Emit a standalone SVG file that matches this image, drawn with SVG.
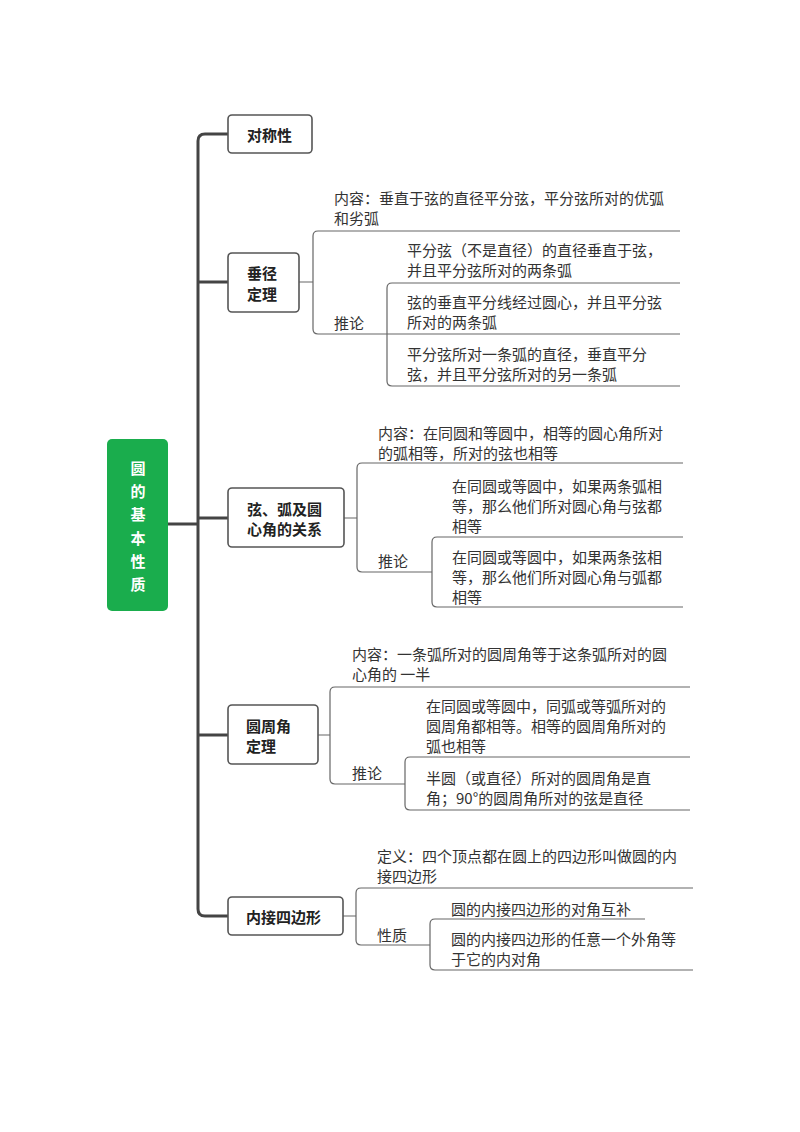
<svg xmlns="http://www.w3.org/2000/svg" width="800" height="1132" viewBox="0 0 800 1132">
<style>
.t{font-family:"Noto Sans CJK SC","Liberation Sans",sans-serif;font-size:15px;fill:#333;dominant-baseline:central}
.b{font-family:"Noto Sans CJK SC","Liberation Sans",sans-serif;font-size:15px;font-weight:bold;fill:#222;dominant-baseline:central}
.r{font-family:"Noto Sans CJK SC","Liberation Sans",sans-serif;font-size:15px;font-weight:bold;fill:#fff;dominant-baseline:central;text-anchor:middle}
.box{fill:#fff;stroke:#555;stroke-width:1.6}
.main{fill:none;stroke:#444;stroke-width:3}
.sub{fill:none;stroke:#666;stroke-width:1.2}
</style>
<rect width="800" height="1132" fill="#fff"/>
<g id="connectors">
<path class="main" d="M228,134 H205 Q198,134 198,141 V909 Q198,916 205,916 H228"/>
<path class="main" d="M168,524 H198 M198,282 H228 M198,518 H228 M198,735 H228"/>
<path class="sub" d="M299,282 H313 M680,231 H318 Q313,231 313,236 V329 Q313,334 318,334 H680 M680,283 H392 Q387,283 387,288 V381 Q387,386 392,386 H680"/>
<path class="sub" d="M344,518 H357 M683,463 H362 Q357,463 357,468 V567 Q357,572 362,572 H432 M683,537 H437 Q432,537 432,542 V602 Q432,607 437,607 H683"/>
<path class="sub" d="M318,735 H330 M690,687 H335 Q330,687 330,692 V779 Q330,784 335,784 H405 M690,757 H410 Q405,757 405,762 V805 Q405,810 410,810 H690"/>
<path class="sub" d="M343,916 H356 M693,888 H361 Q356,888 356,893 V940 Q356,945 361,945 H430 M645,919 H435 Q430,919 430,924 V965 Q430,970 435,970 H693"/>
</g>
<g id="root">
<rect x="107" y="439" width="61" height="172" rx="5" fill="#1aad4d"/>
<text class="r" x="138" y="467">圆</text>
<text class="r" x="138" y="490">的</text>
<text class="r" x="138" y="513">基</text>
<text class="r" x="138" y="537">本</text>
<text class="r" x="138" y="560">性</text>
<text class="r" x="138" y="583">质</text>
</g>
<g id="n-duichen">
<rect class="box" x="228" y="115" width="84" height="38" rx="4"/>
<text class="b" x="247" y="134">对称性</text>
</g>
<g id="n-chuijing">
<rect class="box" x="228" y="253" width="71" height="59" rx="4"/>
<text class="b" x="247" y="272">垂径</text>
<text class="b" x="247" y="293">定理</text>
<text class="t" x="334" y="197">内容：垂直于弦的直径平分弦，平分弦所对的优弧</text>
<text class="t" x="334" y="217">和劣弧</text>
<text class="t" x="334" y="322">推论</text>
<text class="t" x="407" y="249">平分弦（不是直径）的直径垂直于弦，</text>
<text class="t" x="407" y="269">并且平分弦所对的两条弧</text>
<text class="t" x="407" y="301">弦的垂直平分线经过圆心，并且平分弦</text>
<text class="t" x="407" y="321">所对的两条弧</text>
<text class="t" x="407" y="353">平分弦所对一条弧的直径，垂直平分</text>
<text class="t" x="407" y="373">弦，并且平分弦所对的另一条弧</text>
</g>
<g id="n-xianhu">
<rect class="box" x="228" y="488" width="116" height="59" rx="4"/>
<text class="b" x="247" y="508">弦、弧及圆</text>
<text class="b" x="247" y="528">心角的关系</text>
<text class="t" x="378" y="432">内容：在同圆和等圆中，相等的圆心角所对</text>
<text class="t" x="378" y="452">的弧相等，所对的弦也相等</text>
<text class="t" x="378" y="560">推论</text>
<text class="t" x="452" y="485">在同圆或等圆中，如果两条弧相</text>
<text class="t" x="452" y="505">等，那么他们所对圆心角与弦都</text>
<text class="t" x="452" y="525">相等</text>
<text class="t" x="452" y="556">在同圆或等圆中，如果两条弦相</text>
<text class="t" x="452" y="576">等，那么他们所对圆心角与弧都</text>
<text class="t" x="452" y="596">相等</text>
</g>
<g id="n-yuanzhou">
<rect class="box" x="228" y="705" width="90" height="59" rx="4"/>
<text class="b" x="246" y="725">圆周角</text>
<text class="b" x="246" y="745">定理</text>
<text class="t" x="352" y="653">内容：一条弧所对的圆周角等于这条弧所对的圆</text>
<text class="t" x="352" y="673">心角的 一半</text>
<text class="t" x="352" y="772">推论</text>
<text class="t" x="426" y="705">在同圆或等圆中，同弧或等弧所对的</text>
<text class="t" x="426" y="725">圆周角都相等。相等的圆周角所对的</text>
<text class="t" x="426" y="745">弧也相等</text>
<text class="t" x="426" y="777">半圆（或直径）所对的圆周角是直</text>
<text class="t" x="426" y="797">角；90°的圆周角所对的弦是直径</text>
</g>
<g id="n-neijie">
<rect class="box" x="228" y="897" width="115" height="38" rx="4"/>
<text class="b" x="246" y="916">内接四边形</text>
<text class="t" x="377" y="855">定义：四个顶点都在圆上的四边形叫做圆的内</text>
<text class="t" x="377" y="875">接四边形</text>
<text class="t" x="377" y="934">性质</text>
<text class="t" x="451" y="908">圆的内接四边形的对角互补</text>
<text class="t" x="451" y="938">圆的内接四边形的任意一个外角等</text>
<text class="t" x="451" y="958">于它的内对角</text>
</g>
</svg>
